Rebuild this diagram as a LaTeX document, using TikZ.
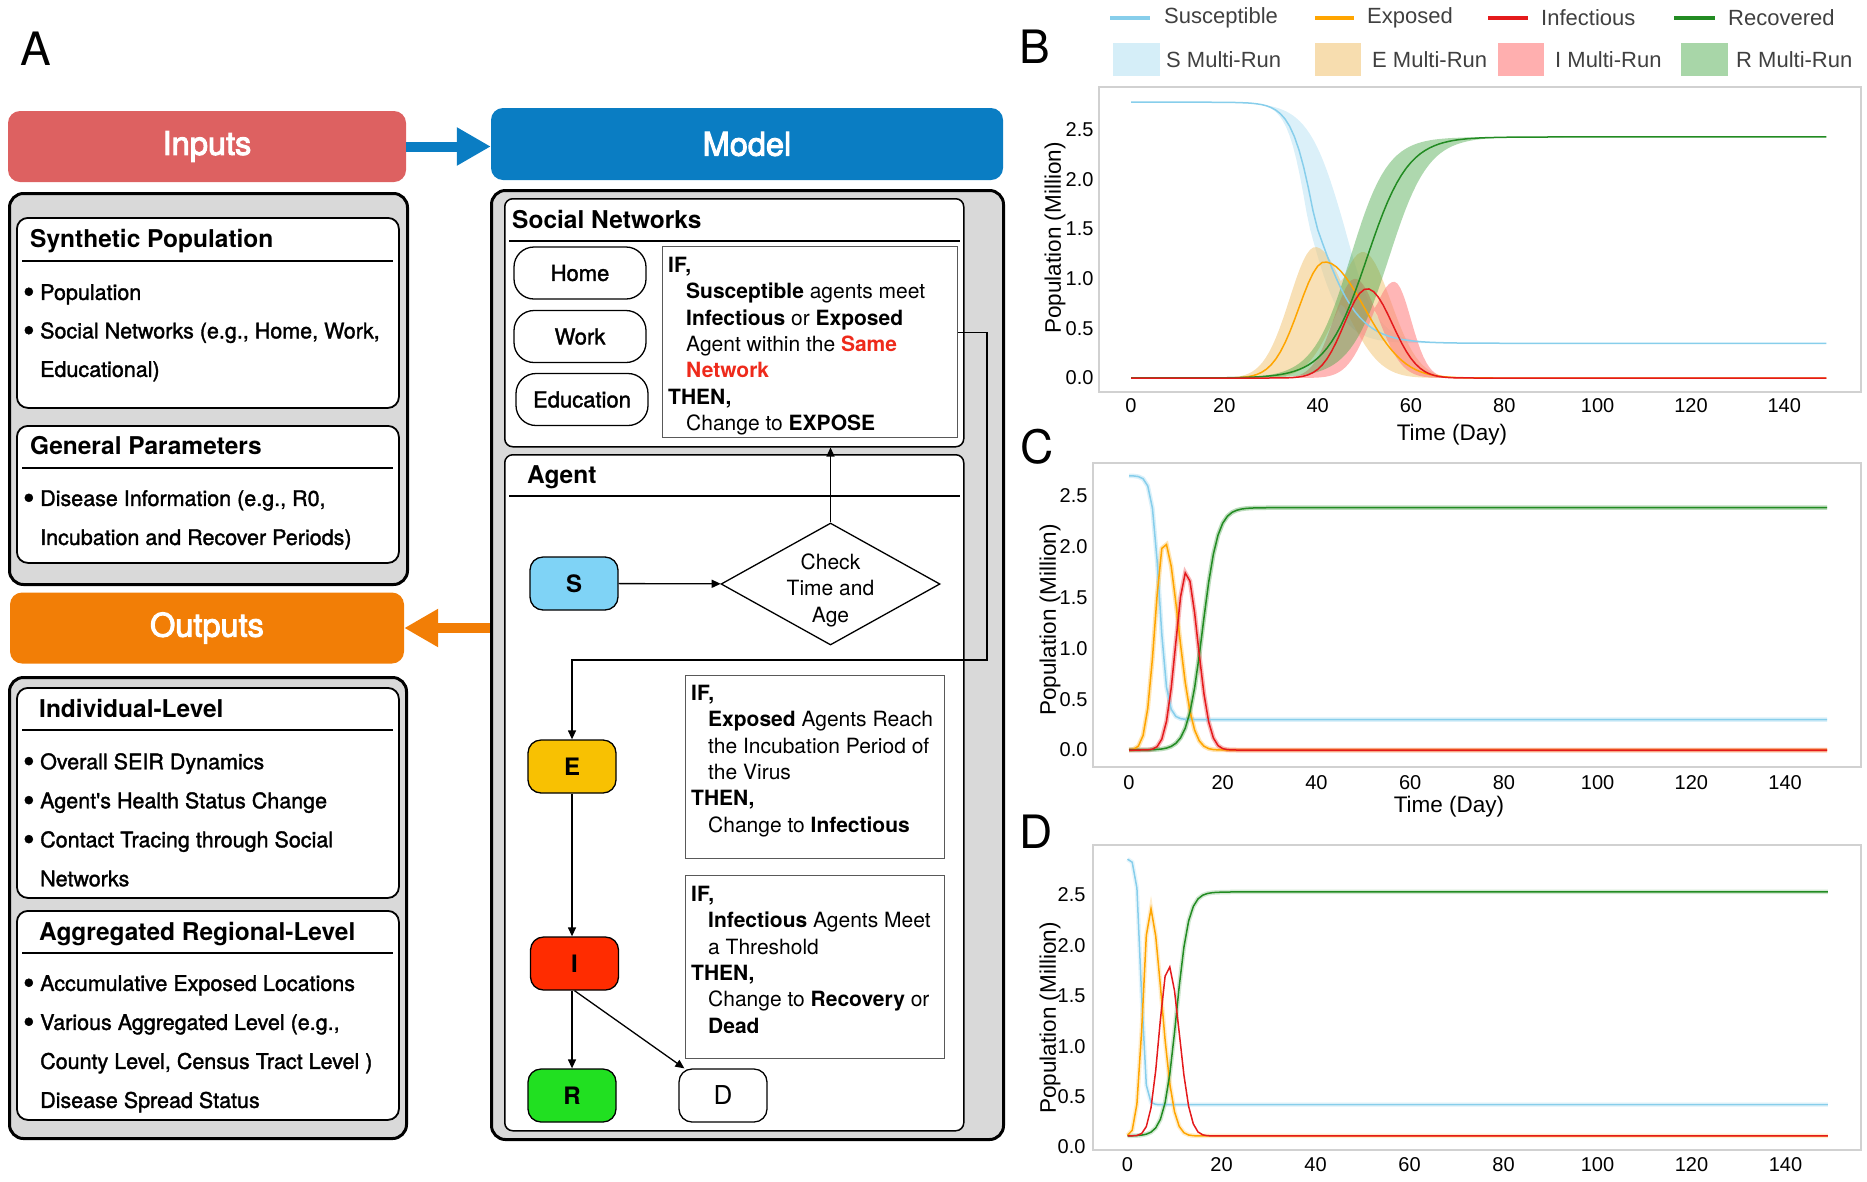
\documentclass[tikz,border=0pt]{standalone}
\usepackage{fontspec}
\setmainfont{TeX Gyre Heros}
\newfontfamily\medfont[FakeBold=1.5]{TeX Gyre Heros}
\newfontfamily\hdfont[FakeBold=3]{TeX Gyre Heros}
\newfontfamily\plotfont{Liberation Sans}
\usetikzlibrary{arrows.meta,shapes.geometric,positioning,calc}

\definecolor{inred}{HTML}{DD6161}
\definecolor{modelblue}{HTML}{0A7DC3}
\definecolor{outorange}{HTML}{F27E06}
\definecolor{boxgray}{HTML}{D9D9D9}
\definecolor{sblue}{HTML}{7FD3F6}
\definecolor{egold}{HTML}{F8C102}
\definecolor{ired}{HTML}{FF2C00}
\definecolor{rgreen}{HTML}{21E021}
\definecolor{samered}{HTML}{EE2A1B}
\definecolor{cS}{HTML}{87CEEB}
\definecolor{cE}{HTML}{FFA500}
\definecolor{cI}{HTML}{E41A1C}
\definecolor{cR}{HTML}{228B22}
\definecolor{bandE}{HTML}{F2C77A}
\definecolor{bandI}{HTML}{FF7A7A}
\definecolor{bandR}{HTML}{3FA33F}

\newcommand{\setfs}[2]{\fontsize{#1}{#2}\selectfont}
\newcommand{\blt}{\makebox[17pt][l]{\raisebox{-3pt}{\scalebox{1.5}{\textbullet}}}}
\newcommand{\cont}{\hspace*{17pt}}

\begin{document}
\begin{tikzpicture}[x=1pt,y=-1pt,
  declare function={sq(\x)=\x*\x;
    dsig(\x,\cen,\lw,\rw)=1/(1+exp(max(-9,min(9,(\x-\cen)/((\x<\cen)?\lw:\rw)))));
    usig(\x,\cen,\w)=1/(1+exp(max(-9,min(9,(\cen-\x)/\w))));
    agau(\x,\cen,\lw,\rw)=exp(-0.5*min(20,sq((\x-\cen)/((\x<\cen)?\lw:\rw))));},
  header/.style={rounded corners=12pt, text=white, font=\hdfont\setfs{32.5}{32.5}},
  graybox/.style={draw, line width=3pt, fill=boxgray, rounded corners=14pt},
  whitebox/.style={draw, line width=1.8pt, fill=white, rounded corners=11pt},
  boxtitle/.style={inner sep=0pt, font=\bfseries\setfs{24.5}{24.5}},
  titleline/.style={line width=1.6pt},
  bullets/.style={inner sep=0pt, align=left, font=\medfont\setfs{21.5}{#1}},
  rulebox/.style={draw=black!65, line width=1.3pt, fill=white},
  ruletext/.style={inner sep=0pt, align=left, font=\setfs{21}{26.3}},
  netnode/.style={draw, line width=1.3pt, rounded corners=20pt, minimum width=132pt, minimum height=52pt, font=\medfont\setfs{22}{22}},
  seirnode/.style={draw, line width=1.3pt, rounded corners=13pt, minimum width=88pt, minimum height=53pt, font=\bfseries\setfs{24}{24}},
  flow/.style={line width=1.3pt, -{Triangle[length=9pt,width=8pt]}},
  bigarrow/.style={line width=10pt, -{Triangle[length=34pt,width=36pt]}},
  panel/.style={font=\setfs{46}{46}},
  plotframe/.style={draw=black!18, line width=1.5pt},
  ticklab/.style={font=\plotfont\setfs{20}{20}},
  axlab/.style={font=\plotfont\setfs{22.5}{22.5}},
  legtext/.style={anchor=west, inner sep=0pt, text=black!75, font=\plotfont\setfs{22}{22}},
  curve/.style={line width=1.5pt},
  halo/.style={line width=4.5pt, opacity=0.3}
]
\useasboundingbox (0,0) rectangle (1867,1181);

\node[panel] (lblA) at (36,49) {A};

% inputs
\node[header, fill=inred, minimum width=398pt, minimum height=71pt] (inhead) at (207,146.5) {Inputs};
\node[graybox, anchor=north west, minimum width=398pt, minimum height=391pt] (inbox) at (8,192) {};
\node[whitebox, anchor=north west, minimum width=382pt, minimum height=190pt] (synbox) at (16,217) {};
\node[boxtitle, anchor=base west] (syntitle) at (30,247) {Synthetic Population};
\draw[titleline] ($(synbox.north west)+(6,44)$) -- ($(synbox.north east)+(-7,44)$);
\node[bullets=38.5, anchor=north west] (synlist) at (23,284)
  {\blt Population\\ \blt Social Networks (e.g., Home, Work,\\ \cont Educational)};
\node[whitebox, anchor=north west, minimum width=382pt, minimum height=137pt] (genbox) at (16,425) {};
\node[boxtitle, anchor=base west] (gentitle) at (30,454) {General Parameters};
\draw[titleline] ($(genbox.north west)+(6,43)$) -- ($(genbox.north east)+(-7,43)$);
\node[bullets=39, anchor=north west] (genlist) at (23,490)
  {\blt Disease Information (e.g., R0,\\ \cont Incubation and Recover Periods)};

% outputs
\node[header, fill=outorange, minimum width=394pt, minimum height=71pt] (outhead) at (207,628) {Outputs};
\node[graybox, anchor=north west, minimum width=397pt, minimum height=461pt] (outbox) at (8,676) {};
\node[whitebox, anchor=north west, minimum width=382pt, minimum height=210pt] (indbox) at (16,687) {};
\node[boxtitle, anchor=base west] (indtitle) at (39,717.5) {Individual-Level};
\draw[titleline] ($(indbox.north west)+(6,43)$) -- ($(indbox.north east)+(-7,43)$);
\node[bullets=39, anchor=north west] (indlist) at (23,753)
  {\blt Overall SEIR Dynamics\\ \blt Agent's Health Status Change\\ \blt Contact Tracing through Social\\ \cont Networks};
\node[whitebox, anchor=north west, minimum width=382pt, minimum height=209pt] (aggbox) at (16,910) {};
\node[boxtitle, anchor=base west] (aggtitle) at (39,940) {Aggregated Regional-Level};
\draw[titleline] ($(aggbox.north west)+(6,43)$) -- ($(aggbox.north east)+(-7,43)$);
\node[bullets=39, anchor=north west] (agglist) at (23,975)
  {\blt Accumulative Exposed Locations\\ \blt Various Aggregated Level (e.g.,\\ \cont County Level, Census Tract Level )\\ \cont Disease Spread Status};

% model
\node[header, fill=modelblue, minimum width=512pt, minimum height=72pt] (modelhead) at (747,144) {Model};
\node[graybox, anchor=north west, minimum width=512pt, minimum height=949pt] (modelbox) at (490,189) {};
\draw[bigarrow, modelblue] (inhead.east) -- (inhead.east -| modelhead.west);
\draw[bigarrow, outorange] (outhead.east -| modelbox.west) -- (outhead.east);

\node[whitebox, line width=1.5pt, rounded corners=8pt, anchor=north west, minimum width=459pt, minimum height=248pt] (snbox) at (504,198) {};
\node[boxtitle, anchor=base west] (sntitle) at (512,228) {Social Networks};
\draw[titleline] ($(snbox.north west)+(5,43)$) -- ($(snbox.north east)+(-5,43)$);
\node[netnode] (home) at (580,273) {Home};
\node[netnode] (work) at (580,336.5) {Work};
\node[netnode] (edu) at (582,399.5) {Education};
\node[rulebox, anchor=north west, minimum width=295pt, minimum height=191pt] (rule1) at (662,246) {};
\node[ruletext, anchor=north west] (rule1txt) at (668,257)
  {\textbf{IF,}\\ \hspace*{18pt}\textbf{Susceptible} agents meet\\ \hspace*{18pt}\textbf{Infectious} or \textbf{Exposed}\\
   \hspace*{18pt}Agent within the \textcolor{samered}{\textbf{Same}}\\ \hspace*{18pt}\textcolor{samered}{\textbf{Network}}\\
   \textbf{THEN,}\\ \hspace*{18pt}Change to \textbf{EXPOSE}};

\node[whitebox, line width=1.5pt, rounded corners=8pt, anchor=north west, minimum width=459pt, minimum height=676pt] (agentbox) at (504,454) {};
\node[boxtitle, anchor=base west] (agtitle) at (527,483) {Agent};
\draw[titleline] ($(agentbox.north west)+(5,42)$) -- ($(agentbox.north east)+(-5,42)$);

\node[seirnode, fill=sblue] (S) at (574,583.5) {S};
\node[draw, diamond, aspect=1.8, line width=1.3pt, inner sep=0pt, minimum width=219pt, minimum height=122pt] (chk) at (830.5,584) {};
\node[align=center, inner sep=0pt, font=\setfs{21}{26.5}] (chktxt) at ($(chk)+(0,6)$) {Check\\Time and\\Age};
\node[seirnode, fill=egold] (E) at (572,766.5) {E};
\node[seirnode, fill=ired] (I) at (574.5,963.5) {I};
\node[seirnode, fill=rgreen] (R) at (572,1095.5) {R};
\node[seirnode, fill=white, font=\setfs{26}{26}] (D) at (723,1095.5) {D};

\node[rulebox, anchor=north west, minimum width=259pt, minimum height=183pt] (rule2) at (685,675) {};
\node[ruletext, anchor=north west] (rule2txt) at (691,685)
  {\textbf{IF,}\\ \hspace*{17pt}\textbf{Exposed} Agents Reach\\ \hspace*{17pt}the Incubation Period of\\ \hspace*{17pt}the Virus\\
   \textbf{THEN,}\\ \hspace*{17pt}Change to \textbf{Infectious}};
\node[rulebox, anchor=north west, minimum width=259pt, minimum height=183pt] (rule3) at (685,875) {};
\node[ruletext, anchor=north west] (rule3txt) at (691,886)
  {\textbf{IF,}\\ \hspace*{17pt}\textbf{Infectious} Agents Meet\\ \hspace*{17pt}a Threshold\\
   \textbf{THEN,}\\ \hspace*{17pt}Change to \textbf{Recovery} or\\ \hspace*{17pt}\textbf{Dead}};

\coordinate (turn) at (987,660);
\draw[flow] (S) -- (chk);
\draw[flow] (chk.north) -- (chk.north |- snbox.south);
\draw[flow] ([yshift=10pt]rule1.east) -| (turn) -| (E.north);
\draw[flow] (E.south) -- (E.south |- I.north);
\draw[flow] (R.north |- I.south) -- (R.north);
\draw[flow] (I.south) -- ([xshift=6pt]D.north west);

% plot B
\node[panel] (lblB) at (1035,47) {B};
\draw[cS, line width=4pt] (1110,18) -- (1150,18);
\node[legtext] (lgS) at (1164,18) {Susceptible};
\draw[cE, line width=4pt] (1315,18) -- (1354,18);
\node[legtext] (lgE) at (1367,18) {Exposed};
\draw[cI, line width=4pt] (1488,18) -- (1528,18);
\node[legtext] (lgI) at (1541,18) {Infectious};
\draw[cR, line width=4pt] (1674,18) -- (1715,18);
\node[legtext] (lgR) at (1728,18) {Recovered};
\fill[cS, opacity=0.35] (1113,43) rectangle (1160,76);
\node[legtext] (lgSm) at (1166,60) {S Multi-Run};
\fill[bandE, opacity=0.6] (1315,43) rectangle (1361,76);
\node[legtext] (lgEm) at (1372,60) {E Multi-Run};
\fill[bandI, opacity=0.6] (1498,43) rectangle (1544,76);
\node[legtext] (lgIm) at (1555,60) {I Multi-Run};
\fill[bandR, opacity=0.45] (1681,43) rectangle (1728,76);
\node[legtext] (lgRm) at (1736,60) {R Multi-Run};

\draw[plotframe] (1099,87) rectangle (1861,392);
\foreach \d in {0,20,...,140} \node[ticklab] (bx\d) at ({1131+4.666*\d},406) {\d};
\foreach \v/\lab [count=\k] in {0/0.0,0.5/0.5,1/1.0,1.5/1.5,2/2.0,2.5/2.5}
  \node[ticklab, anchor=east] (by\k) at (1097,{378-99.2*\v}) {\lab};
\node[axlab] (bxl) at (1452,435) {Time (Day)};
\node[axlab, rotate=90] (byl) at (1055,238) {Population (Million)};
\begin{scope}[shift={(1131,378)}, x=4.666pt, y=99.2pt]
  \fill[cS, opacity=0.3] plot[domain=15:80, samples=90] (\x,{0.35+2.43*dsig(\x,45.5,3.8,3.5)})
    -- plot[domain=80:15, samples=90] (\x,{0.35+2.43*dsig(\x,38,2.2,3.5)}) -- cycle;
  \fill[bandE, opacity=0.55] plot[domain=15:80, samples=90] (\x,{max(1.32*agau(\x,39.5,5.5,7),1.27*agau(\x,49.7,6,6))})
    -- plot[domain=80:15, samples=90] (\x,{0.8*min(1.32*agau(\x,39.5,5.5,7),1.27*agau(\x,49.7,6,6))}) -- cycle;
  \fill[bandI, opacity=0.55] plot[domain=25:80, samples=90] (\x,{max(agau(\x,48,4.5,5),0.97*agau(\x,56.4,5,3.6))})
    -- plot[domain=80:25, samples=90] (\x,{min(agau(\x,48,4.5,5),0.97*agau(\x,56.4,5,3.6))}) -- cycle;
  \fill[bandR, opacity=0.42] plot[domain=20:95, samples=90] (\x,{2.43*usig(\x,47,4)})
    -- plot[domain=95:20, samples=90] (\x,{2.43*usig(\x,55.3,4.2)}) -- cycle;
  \draw[curve, cS] plot[domain=0:149, samples=150] (\x,{0.35+2.43*dsig(\x,39.5,2.5,4.5)});
  \draw[curve, cE] plot[domain=0:149, samples=150] (\x,{1.17*agau(\x,41.5,5.5,8.5)});
  \draw[curve, cR] plot[domain=0:149, samples=150] (\x,{2.43*usig(\x,50.6,4.4)});
  \draw[curve, cI] plot[domain=0:149, samples=150] (\x,{0.9*agau(\x,50.6,4.9,5.4)});
\end{scope}

% plot C
\node[panel] (lblC) at (1037,447) {C};
\draw[plotframe] (1093,463) rectangle (1861,767);
\foreach \d in {0,20,...,140} \node[ticklab] (cx\d) at ({1129+4.686*\d},783) {\d};
\foreach \v/\lab [count=\k] in {0/0.0,0.5/0.5,1/1.0,1.5/1.5,2/2.0,2.5/2.5}
  \node[ticklab, anchor=east] (cy\k) at (1091,{750-101.6*\v}) {\lab};
\node[axlab] (cxl) at (1449,807) {Time (Day)};
\node[axlab, rotate=90] (cyl) at (1050,620) {Population (Million)};
\begin{scope}[shift={(1129,750)}, x=4.686pt, y=101.6pt]
  \draw[halo, cS] plot[domain=0:149, samples=150] (\x,{0.30+2.40*dsig(\x,6.5,0.8,0.8)});
  \draw[halo, cE] plot[domain=0:149, samples=150] (\x,{2.05*agau(\x,7.5,1.95,3.0)});
  \draw[halo, cI] plot[domain=0:149, samples=150] (\x,{1.75*agau(\x,12.2,2.2,2.5)});
  \draw[halo, cR] plot[domain=0:149, samples=150] (\x,{2.385*usig(\x,15.7,1.6)});
  \draw[curve, cS] plot[domain=0:149, samples=150] (\x,{0.30+2.40*dsig(\x,6.5,0.8,0.8)});
  \draw[curve, cE] plot[domain=0:149, samples=150] (\x,{2.05*agau(\x,7.5,1.95,3.0)});
  \draw[curve, cR] plot[domain=0:149, samples=150] (\x,{2.385*usig(\x,15.7,1.6)});
  \draw[curve, cI] plot[domain=0:149, samples=150] (\x,{1.75*agau(\x,12.2,2.2,2.5)});
\end{scope}

% plot D
\node[panel] (lblD) at (1036,832) {D};
\draw[plotframe] (1093,845) rectangle (1861,1150);
\foreach \d in {0,20,...,140} \node[ticklab] (dx\d) at ({1127.5+4.70*\d},1165) {\d};
\foreach \v/\lab [count=\k] in {0/0.0,0.5/0.5,1/1.0,1.5/1.5,2/2.0,2.5/2.5}
  \node[ticklab, anchor=east] (dy\k) at (1089,{1147-100.8*\v}) {\lab};
\node[axlab, rotate=90] (dyl) at (1050,1018) {Population (Million)};
\begin{scope}[shift={(1127.5,1147)}, x=4.70pt, y=100.8pt]
  \draw[halo, cS, opacity=0.2] plot[domain=0:149, samples=150] (\x,{0.42+2.44*dsig(\x,2.9,0.45,0.45)});
  \draw[halo, cE, opacity=0.2] plot[domain=0:149, samples=150] (\x,{0.11+2.27*agau(\x,4.7,1.36,2.5)});
  \draw[halo, cR, opacity=0.2] plot[domain=0:149, samples=150] (\x,{0.11+2.42*usig(\x,10.4,1.3)});
  \draw[curve, cS] plot[domain=0:149, samples=150] (\x,{0.42+2.44*dsig(\x,2.9,0.45,0.45)});
  \draw[curve, cE] plot[domain=0:149, samples=150] (\x,{0.11+2.27*agau(\x,4.7,1.36,2.5)});
  \draw[curve, cR] plot[domain=0:149, samples=150] (\x,{0.11+2.42*usig(\x,10.4,1.3)});
  \draw[curve, cI] plot[domain=0:149, samples=150] (\x,{0.11+1.69*agau(\x,8.7,1.95,2.3)});
\end{scope}
\end{tikzpicture}
\end{document}
